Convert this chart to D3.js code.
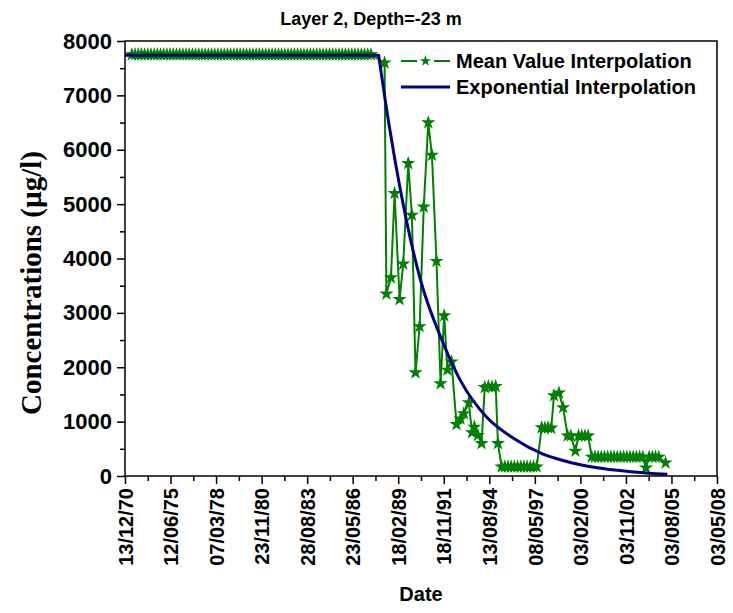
<!DOCTYPE html>
<html>
<head>
<meta charset="utf-8">
<script src="https://cdn.jsdelivr.net/npm/d3@7"></script>
<style>
  body { margin: 0; background: #fff; }
  svg { display: block; }
</style>
</head>
<body>
<div id="chart"></div>
<script>
// x positions are in axis-tick units (0 = first label, 13 = last label)
const tickLabels = ['13/12/70', '12/06/75', '07/03/78', '23/11/80', '28/08/83', '23/05/86',
  '18/02/89', '18/11/91', '13/08/94', '08/05/97', '03/02/00', '03/11/02', '03/08/05', '03/05/08'];

const meanT = [
  0.15, 0.22, 0.29, 0.36, 0.43, 0.50, 0.57, 0.64, 0.71, 0.78, 0.85, 0.92, 0.99, 1.06, 1.13, 1.20,
  1.27, 1.34, 1.41, 1.48, 1.55, 1.62, 1.69, 1.76, 1.83, 1.90, 1.97, 2.04, 2.11, 2.18, 2.25, 2.32,
  2.39, 2.46, 2.53, 2.60, 2.67, 2.74, 2.81, 2.88, 2.95, 3.02, 3.09, 3.16, 3.23, 3.30, 3.37, 3.44,
  3.51, 3.58, 3.65, 3.72, 3.79, 3.86, 3.93, 4.00, 4.07, 4.14, 4.21, 4.28, 4.35, 4.42, 4.49, 4.56,
  4.63, 4.70, 4.77, 4.84, 4.91, 4.98, 5.05, 5.12, 5.19, 5.26, 5.33, 5.40,
  5.70, 5.74, 5.84, 5.92, 6.03, 6.11, 6.22, 6.30, 6.38, 6.47, 6.56, 6.66, 6.74, 6.84, 6.93, 7.01,
  7.08, 7.17, 7.28, 7.37, 7.44, 7.55, 7.62, 7.67, 7.75, 7.83, 7.90, 7.98, 8.06, 8.14, 8.19,
  8.27, 8.34, 8.41, 8.48, 8.55, 8.62, 8.69, 8.76, 8.83, 8.90, 8.97, 9.04,
  9.15, 9.22, 9.29, 9.36, 9.42, 9.53, 9.62,
  9.72, 9.79, 9.89, 9.96, 10.03, 10.10, 10.17,
  10.25, 10.32, 10.39, 10.46, 10.53, 10.60, 10.67, 10.74, 10.81, 10.88, 10.95, 11.02, 11.09, 11.16,
  11.23, 11.30, 11.37, 11.44, 11.51, 11.58, 11.65, 11.72, 11.87
];
const meanC = [
  7750, 7750, 7750, 7750, 7750, 7750, 7750, 7750, 7750, 7750, 7750, 7750, 7750, 7750, 7750, 7750,
  7750, 7750, 7750, 7750, 7750, 7750, 7750, 7750, 7750, 7750, 7750, 7750, 7750, 7750, 7750, 7750,
  7750, 7750, 7750, 7750, 7750, 7750, 7750, 7750, 7750, 7750, 7750, 7750, 7750, 7750, 7750, 7750,
  7750, 7750, 7750, 7750, 7750, 7750, 7750, 7750, 7750, 7750, 7750, 7750, 7750, 7750, 7750, 7750,
  7750, 7750, 7750, 7750, 7750, 7750, 7750, 7750, 7750, 7750, 7750, 7750,
  7600, 3350, 3650, 5200, 3250, 3900, 5750, 4800, 1900, 2750, 4950, 6500, 5900, 3950, 1700, 2950,
  1950, 2100, 950, 1050, 1150, 1350, 800, 900, 750, 600, 1630, 1650, 1640, 1650, 600,
  170, 170, 170, 170, 170, 170, 170, 170, 170, 170, 170, 170,
  890, 880, 890, 880, 1480, 1530, 1260,
  740, 740, 460, 740, 740, 740, 740,
  350, 350, 350, 350, 350, 350, 350, 350, 350, 350, 350, 350, 350, 350,
  350, 350, 350, 150, 350, 350, 350, 350, 240
];

// flat part, then the decay (drawn smooth from the bend on)
const expT = [0, 5.57, 5.80, 6.05, 6.49, 6.96, 7.37, 7.95, 8.54, 9.13, 9.64, 10.37, 11.10, 11.91];
const expC = [7740, 7740, 6450, 5250, 3600, 2500, 1750, 1075, 690, 420, 280, 150, 80, 30];

const W = 733, H = 613;
const plot = { left: 125, right: 717, top: 41, bottom: 476 };
const green = '#008000', navy = '#000080';
const sans = '"Liberation Sans", Arial, sans-serif';

const svg = d3.select('#chart').append('svg')
  .attr('width', W).attr('height', H)
  .style('font-family', sans);

const x = d3.scaleLinear().domain([0, 13]).range([plot.left, plot.right]);
const y = d3.scaleLinear().domain([0, 8000]).range([plot.bottom, plot.top]);

// minor ticks
svg.append('g')
  .attr('transform', `translate(${plot.left},0)`)
  .call(d3.axisLeft(y).tickValues(d3.range(500, 8000, 1000)).tickSize(5).tickFormat(''))
  .call(g => g.select('.domain').remove());
svg.append('g')
  .attr('transform', `translate(0,${plot.bottom})`)
  .call(d3.axisBottom(x).tickValues(d3.range(0.5, 13, 1)).tickSize(5).tickFormat(''))
  .call(g => g.select('.domain').remove());

// major ticks + labels
const yAxis = svg.append('g')
  .attr('transform', `translate(${plot.left},0)`)
  .call(d3.axisLeft(y).tickValues(d3.range(0, 8001, 1000)).tickSize(8).tickPadding(5)
    .tickFormat(d3.format('d')));
yAxis.select('.domain').remove();
yAxis.selectAll('text')
  .style('font-family', sans).style('font-size', '22px').style('font-weight', 'bold')
  .attr('fill', '#000');

const xAxis = svg.append('g')
  .attr('transform', `translate(0,${plot.bottom})`)
  .call(d3.axisBottom(x).tickValues(d3.range(0, 14)).tickSize(8)
    .tickFormat(i => tickLabels[i]));
xAxis.select('.domain').remove();
xAxis.selectAll('text')
  .style('font-family', sans).style('font-size', '20px').style('font-weight', 'bold')
  .attr('fill', '#000')
  .attr('transform', 'rotate(-90)')
  .attr('text-anchor', 'end')
  .attr('x', -12).attr('y', 0).attr('dy', '0.36em');

svg.selectAll('.tick line').attr('stroke', '#000').attr('stroke-width', 1.5);

// data
svg.append('clipPath').attr('id', 'plotclip').append('rect')
  .attr('x', plot.left).attr('y', plot.top - 20)
  .attr('width', plot.right - plot.left).attr('height', plot.bottom - plot.top + 20);

const gData = svg.append('g').attr('clip-path', 'url(#plotclip)');

const meanData = meanT.map((t, i) => ({ t, c: meanC[i] }));
const expData = expT.map((t, i) => ({ t, c: expC[i] }));

gData.append('path')
  .datum(meanData)
  .attr('fill', 'none')
  .attr('stroke', green)
  .attr('stroke-width', 2)
  .attr('d', d3.line().x(d => x(d.t)).y(d => y(d.c)));

const star = d3.symbol().type(d3.symbolStar).size(64);
gData.selectAll('path.star')
  .data(meanData)
  .join('path')
  .attr('class', 'star')
  .attr('transform', d => `translate(${x(d.t)},${y(d.c)})`)
  .attr('d', star)
  .attr('fill', green);

const expLine = d3.line().x(d => x(d.t)).y(d => y(d.c));
gData.append('path')
  .attr('fill', 'none')
  .attr('stroke', navy)
  .attr('stroke-width', 3)
  .attr('stroke-linejoin', 'round')
  .attr('d', expLine(expData.slice(0, 2)) +
    expLine.curve(d3.curveMonotoneX)(expData.slice(1)).replace(/^M/, 'L'));

// frame
svg.append('rect')
  .attr('x', plot.left).attr('y', plot.top)
  .attr('width', plot.right - plot.left).attr('height', plot.bottom - plot.top)
  .attr('fill', 'none').attr('stroke', '#000').attr('stroke-width', 1.5);

// legend
const lg = svg.append('g');
lg.append('line').attr('x1', 401).attr('x2', 417).attr('y1', 61).attr('y2', 61)
  .attr('stroke', green).attr('stroke-width', 2);
lg.append('line').attr('x1', 434).attr('x2', 450).attr('y1', 61).attr('y2', 61)
  .attr('stroke', green).attr('stroke-width', 2);
lg.append('path').attr('transform', 'translate(425.5,61)')
  .attr('d', d3.symbol().type(d3.symbolStar).size(40)()).attr('fill', green);
lg.append('line').attr('x1', 401).attr('x2', 450).attr('y1', 87).attr('y2', 87)
  .attr('stroke', navy).attr('stroke-width', 3);
lg.append('text').attr('x', 456).attr('y', 68)
  .style('font-size', '20px').style('font-weight', 'bold')
  .text('Mean Value Interpolation');
lg.append('text').attr('x', 456).attr('y', 94)
  .style('font-size', '20px').style('font-weight', 'bold')
  .text('Exponential Interpolation');

// titles
svg.append('text')
  .attr('x', 371).attr('y', 25)
  .attr('text-anchor', 'middle')
  .style('font-size', '18px').style('font-weight', 'bold')
  .text('Layer 2, Depth=-23 m');

svg.append('text')
  .attr('x', 421).attr('y', 601)
  .attr('text-anchor', 'middle')
  .style('font-size', '20px').style('font-weight', 'bold')
  .text('Date');

svg.append('text')
  .attr('transform', 'translate(41,283) rotate(-90)')
  .attr('text-anchor', 'middle')
  .style('font-family', '"Liberation Serif", "Times New Roman", serif')
  .style('font-size', '29px').style('font-weight', 'bold')
  .text('Concentrations (\u00b5g/l)');
</script>
</body>
</html>
